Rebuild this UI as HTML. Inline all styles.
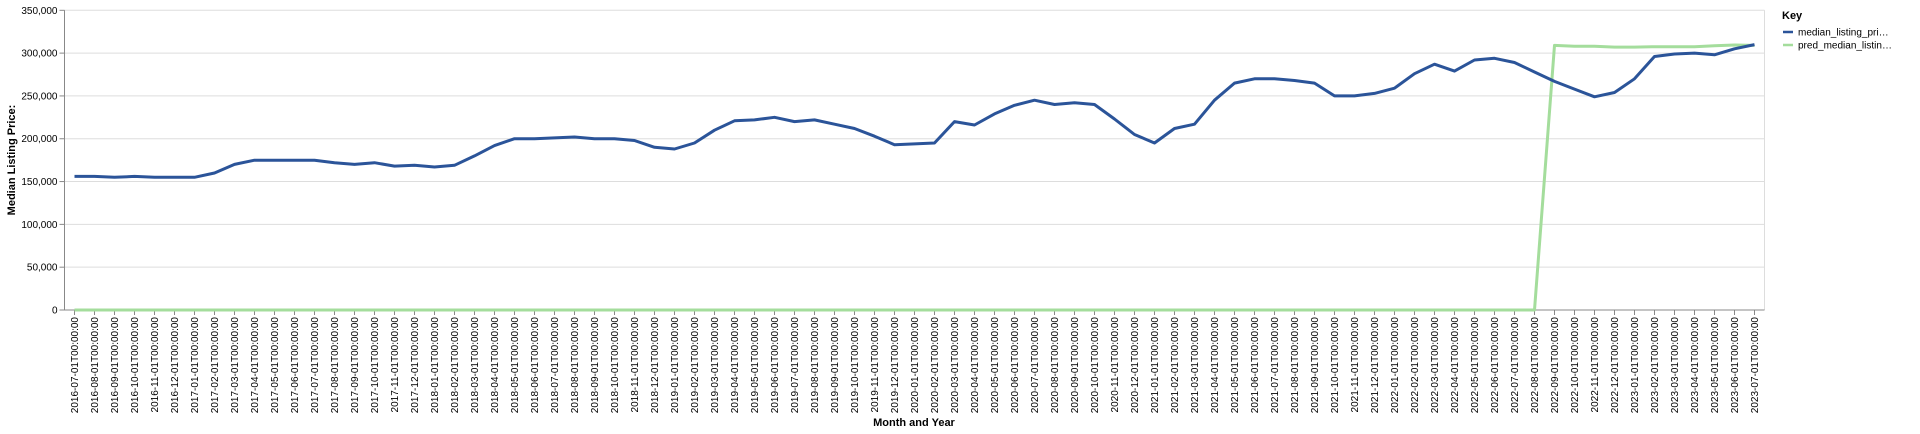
<!DOCTYPE html>
<html><head><meta charset="utf-8"><style>
html,body{margin:0;padding:0;background:#fff;width:1920px;height:434px;overflow:hidden}
svg text{font-family:"Liberation Sans",sans-serif}
</style></head><body>
<svg id="chart" width="1920" height="434" xmlns="http://www.w3.org/2000/svg">
<g id="grid"></g>
<g id="yaxis"></g>
<g id="xaxis"></g>
<g id="series"></g>
<text transform="translate(15,160) rotate(-90)" text-anchor="middle" font-size="11" font-weight="bold" fill="#000">Median Listing Price:</text>
<text x="914" y="426" text-anchor="middle" font-size="11" font-weight="bold" fill="#000">Month and Year</text>
<g>
<text x="1782" y="19" font-size="11" font-weight="bold" fill="#000">Key</text>
<g>
<line x1="1783" y1="32" x2="1793" y2="32" stroke="#2b5499" stroke-width="2.5"/>
<text x="1798" y="35.5" font-size="10" fill="#000">median_listing_pri…</text></g>
<g>
<line x1="1783" y1="45" x2="1793" y2="45" stroke="#a4dd9c" stroke-width="2.5"/>
<text x="1798" y="48.5" font-size="10" fill="#000">pred_median_listin…</text></g>
</g>
</svg>
<script>
const startYear = 2016, startMonth = 7, monthCount = 85;
const medianValues = [156000,156000,155000,156000,155000,155000,155000,160000,170000,175000,
175000,175000,175000,172000,170000,172000,168000,169000,167000,169000,
180000,192000,200000,200000,201000,202000,200000,200000,198000,190000,
188000,195000,210000,221000,222000,225000,220000,222000,217000,212000,
203000,193000,194000,195000,220000,216000,229000,239000,245000,240000,
242000,240000,223000,205000,195000,212000,217000,245000,265000,270000,
270000,268000,265000,250000,250000,253000,259000,276000,287000,279000,
292000,294000,289000,278000,267000,258000,249000,254000,270000,296000,
299000,300000,298000,305000,310000];
const predValues = [];
for (let i=0;i<74;i++) predValues.push(0);
predValues.push(309000,308000,308000,307000,307000,307500,307500,307500,308500,309500,309000);
const yTicks = [0,50000,100000,150000,200000,250000,300000,350000];

const L=64.5,R=1764.5,T=10.3,B=310,X0=74.5,STEP=20;
const x=i=>X0+i*STEP;
const y=v=>B-(v/350000)*(B-T);
const NS="http://www.w3.org/2000/svg";
function mk(tag,parent,attrs){const e=document.createElementNS(NS,tag);for(const k in attrs)e.setAttribute(k,attrs[k]);parent.appendChild(e);return e;}
const grid=document.getElementById('grid'),ya=document.getElementById('yaxis'),xa=document.getElementById('xaxis'),ser=document.getElementById('series');
yTicks.forEach(v=>{
  const g=mk('line',grid,{x1:L,x2:R,y1:y(v),y2:y(v),stroke:'#ddd','stroke-width':1});
  
  
  mk('line',ya,{x1:L-5,x2:L,y1:y(v),y2:y(v),stroke:'#888'});
  const t=mk('text',ya,{x:L-7,y:y(v)+3.5,'text-anchor':'end','font-size':10,fill:'#000'});
  t.textContent=v.toLocaleString('en-US');
  
  
});
mk('line',grid,{x1:R,x2:R,y1:T,y2:B,stroke:'#ddd'});
mk('line',ya,{x1:L,x2:L,y1:T,y2:B,stroke:'#888'});
mk('line',xa,{x1:L,x2:R,y1:B,y2:B,stroke:'#888'});
for(let i=0;i<monthCount;i++){
  const m=(startMonth-1+i)%12+1, yr=startYear+Math.floor((startMonth-1+i)/12);
  const lbl=yr+'-'+String(m).padStart(2,'0')+'-01T00:00:00';
  mk('line',xa,{x1:x(i),x2:x(i),y1:B,y2:B+5,stroke:'#888'});
  const t=mk('text',xa,{transform:`translate(${x(i)+3.5},${B+7}) rotate(-90)`,'text-anchor':'end','font-size':10,fill:'#000'});
  t.textContent=lbl;
  
  
}
function line(vals,color,name){
  const d=vals.map((v,i)=>(i?'L':'M')+x(i).toFixed(1)+','+y(v).toFixed(1)).join('');
  const p=mk('path',ser,{d:d,fill:'none',stroke:color,'stroke-width':3,'stroke-linejoin':'round'});
  
  
}
line(predValues,'#a4dd9c','pred-median-line');
line(medianValues,'#2b5499','median-listing-price-line');
</script>
</body></html>
